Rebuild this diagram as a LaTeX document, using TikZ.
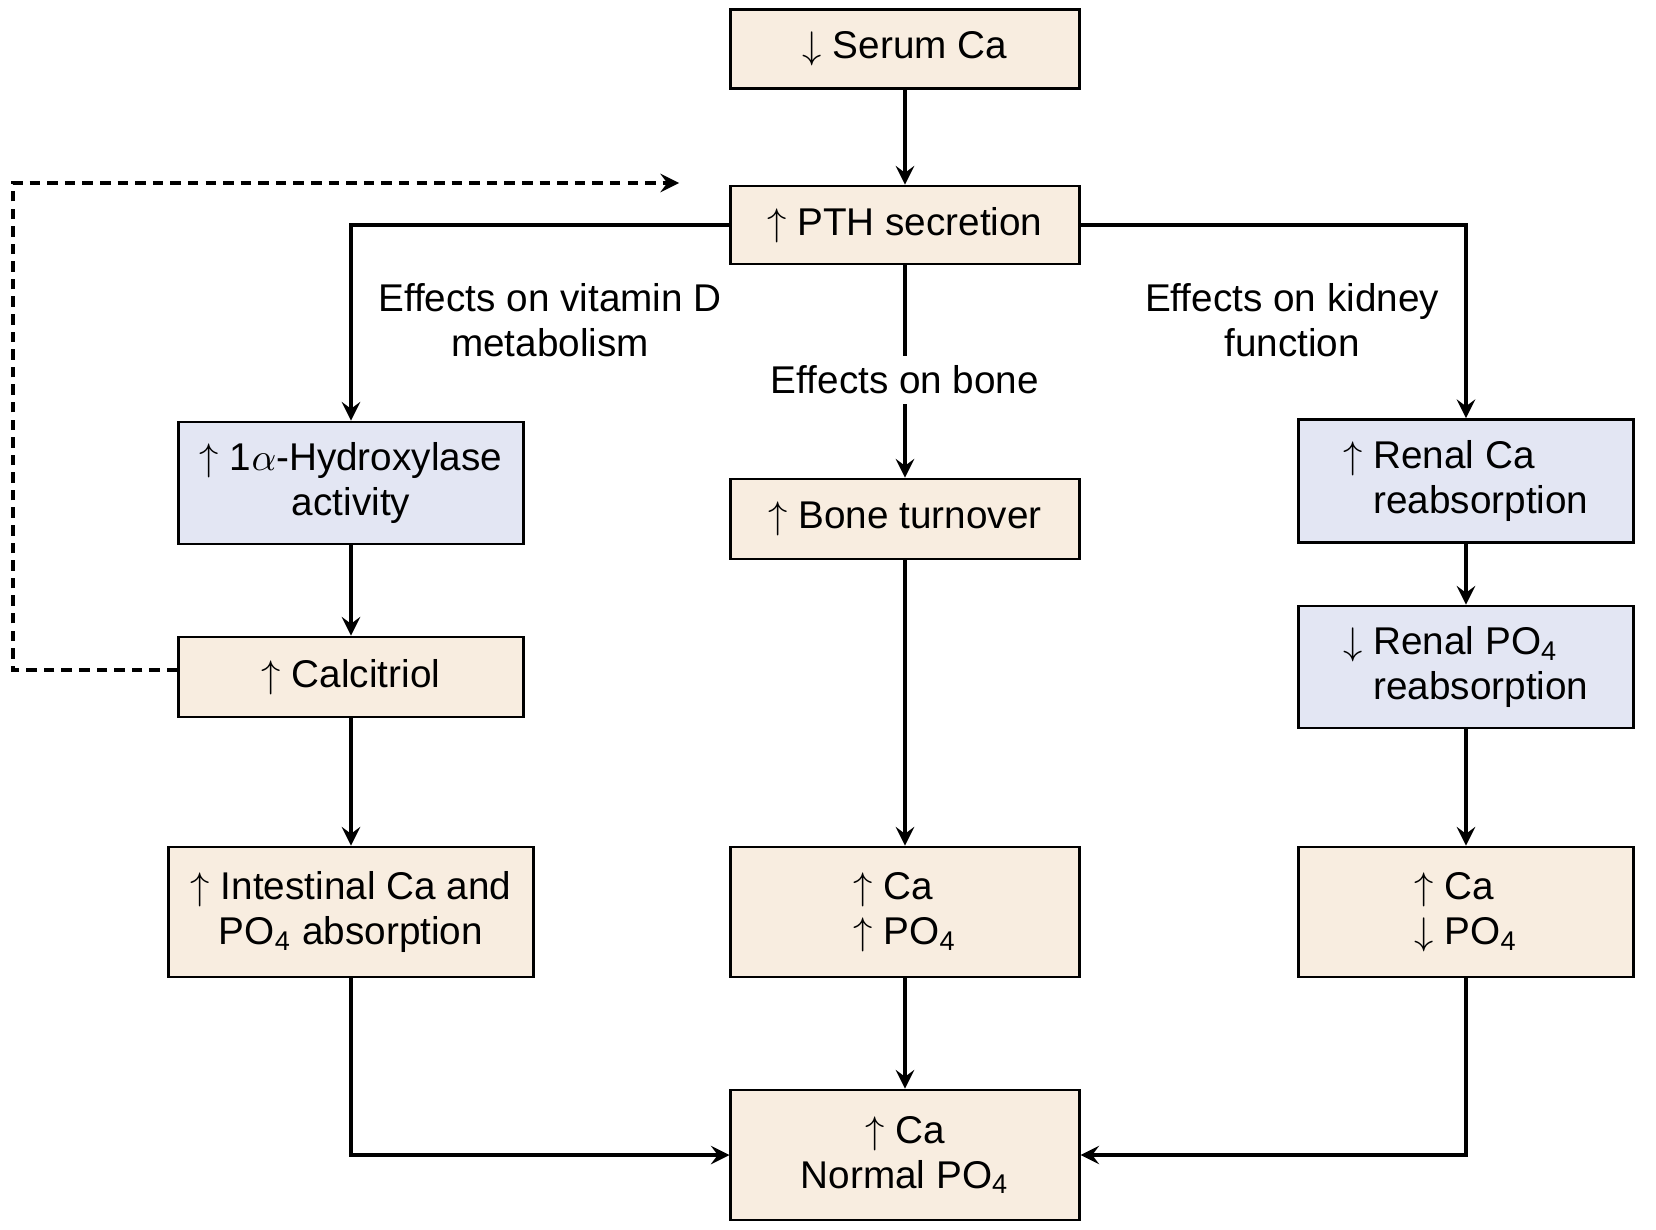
\documentclass[tikz,border=0pt]{standalone}
\usepackage{fontspec}
\setmainfont{Liberation Sans}
\usepackage{tikz}
\definecolor{bege}{HTML}{F8EDE0}
\definecolor{lilas}{HTML}{E3E6F3}
\usetikzlibrary{arrows}
\tikzstyle{caixa}=[rectangle, draw=black, line width=0.8pt, fill=bege, align=center, inner sep=0pt, minimum width=3.48cm]
\tikzstyle{caixarim}=[caixa, fill=lilas, minimum width=3.35cm]
\tikzstyle{rotulo}=[align=center, fill=white, inner sep=1mm]
\tikzstyle{retorno}=[dashed, dash pattern=on 3pt off 2pt]

\begin{document}
\begin{tikzpicture}[->, >=stealth, line width=1.3pt, x=0.01cm, y=-0.01cm, every node/.style={font=\fontsize{11}{12.8}\selectfont}]
				\useasboundingbox (0,0) rectangle (1656,1230);
				% coluna central
				\node[caixa, minimum height=0.79cm] (serum) at (905,49) {$\downarrow$ Serum Ca};
				\node[caixa, minimum height=0.78cm] (pth) at (905,225) {$\uparrow$ PTH secretion};
				\node[caixa, minimum height=0.8cm] (osso) at (905,519) {$\uparrow$ Bone turnover};
				\node[caixa, minimum height=1.3cm, align=left] (osso2) at (905,912) {$\uparrow$ Ca\\$\uparrow$ PO\textsubscript{4}};
				\node[caixa, minimum height=1.3cm] (normal) at (905,1155) {$\uparrow$ Ca\\Normal PO\textsubscript{4}};
				% coluna da vitamina D
				\node[caixa, fill=lilas, minimum width=3.44cm, minimum height=1.22cm] (hidrox) at (351,483) {$\uparrow$ 1$\alpha$-Hydroxylase\\activity};
				\node[caixa, minimum width=3.44cm, minimum height=0.8cm] (calcit) at (351,677) {$\uparrow$ Calcitriol};
				\node[caixa, minimum width=3.64cm, minimum height=1.3cm] (intest) at (351,912) {$\uparrow$ Intestinal Ca and\\PO\textsubscript{4} absorption};
				% coluna do rim
				\node[caixarim, minimum height=1.23cm, align=left] (renalca) at (1466,481) {$\uparrow$ Renal Ca\\\hphantom{$\uparrow$ }reabsorption};
				\node[caixarim, minimum height=1.22cm, align=left] (renalpo) at (1466,667) {$\downarrow$ Renal PO\textsubscript{4}\\\hphantom{$\downarrow$ }reabsorption};
				\node[caixa, minimum width=3.35cm, minimum height=1.3cm, align=left] (rim2) at (1466,912) {$\uparrow$ Ca\\$\downarrow$ PO\textsubscript{4}};
				\node[rotulo] (rotvitd) at (550,320) {Effects on vitamin D\\metabolism};
				\node[rotulo] (rotrim) at (1292,320) {Effects on kidney\\function};
				\coordinate (canto) at (13,183);
				\coordinate (fim) at (679,183);
				\draw (serum)--(pth);
				\draw (pth)--node[rotulo, pos=0.54]{Effects on bone} (osso);
				\draw (osso)--(osso2);
				\draw (osso2)--(normal);
				\draw (pth.west) -| (hidrox.north);
				\draw (hidrox)--(calcit);
				\draw (calcit)--(intest);
				\draw (intest.south) |- (normal.west);
				\draw (pth.east) -| (renalca.north);
				\draw (renalca)--(renalpo);
				\draw (renalpo)--(rim2);
				\draw (rim2.south) |- (normal.east);
				\draw[retorno] ([yshift=0.07cm]calcit.west) -| (canto) -- (fim);
			\end{tikzpicture}
\end{document}
